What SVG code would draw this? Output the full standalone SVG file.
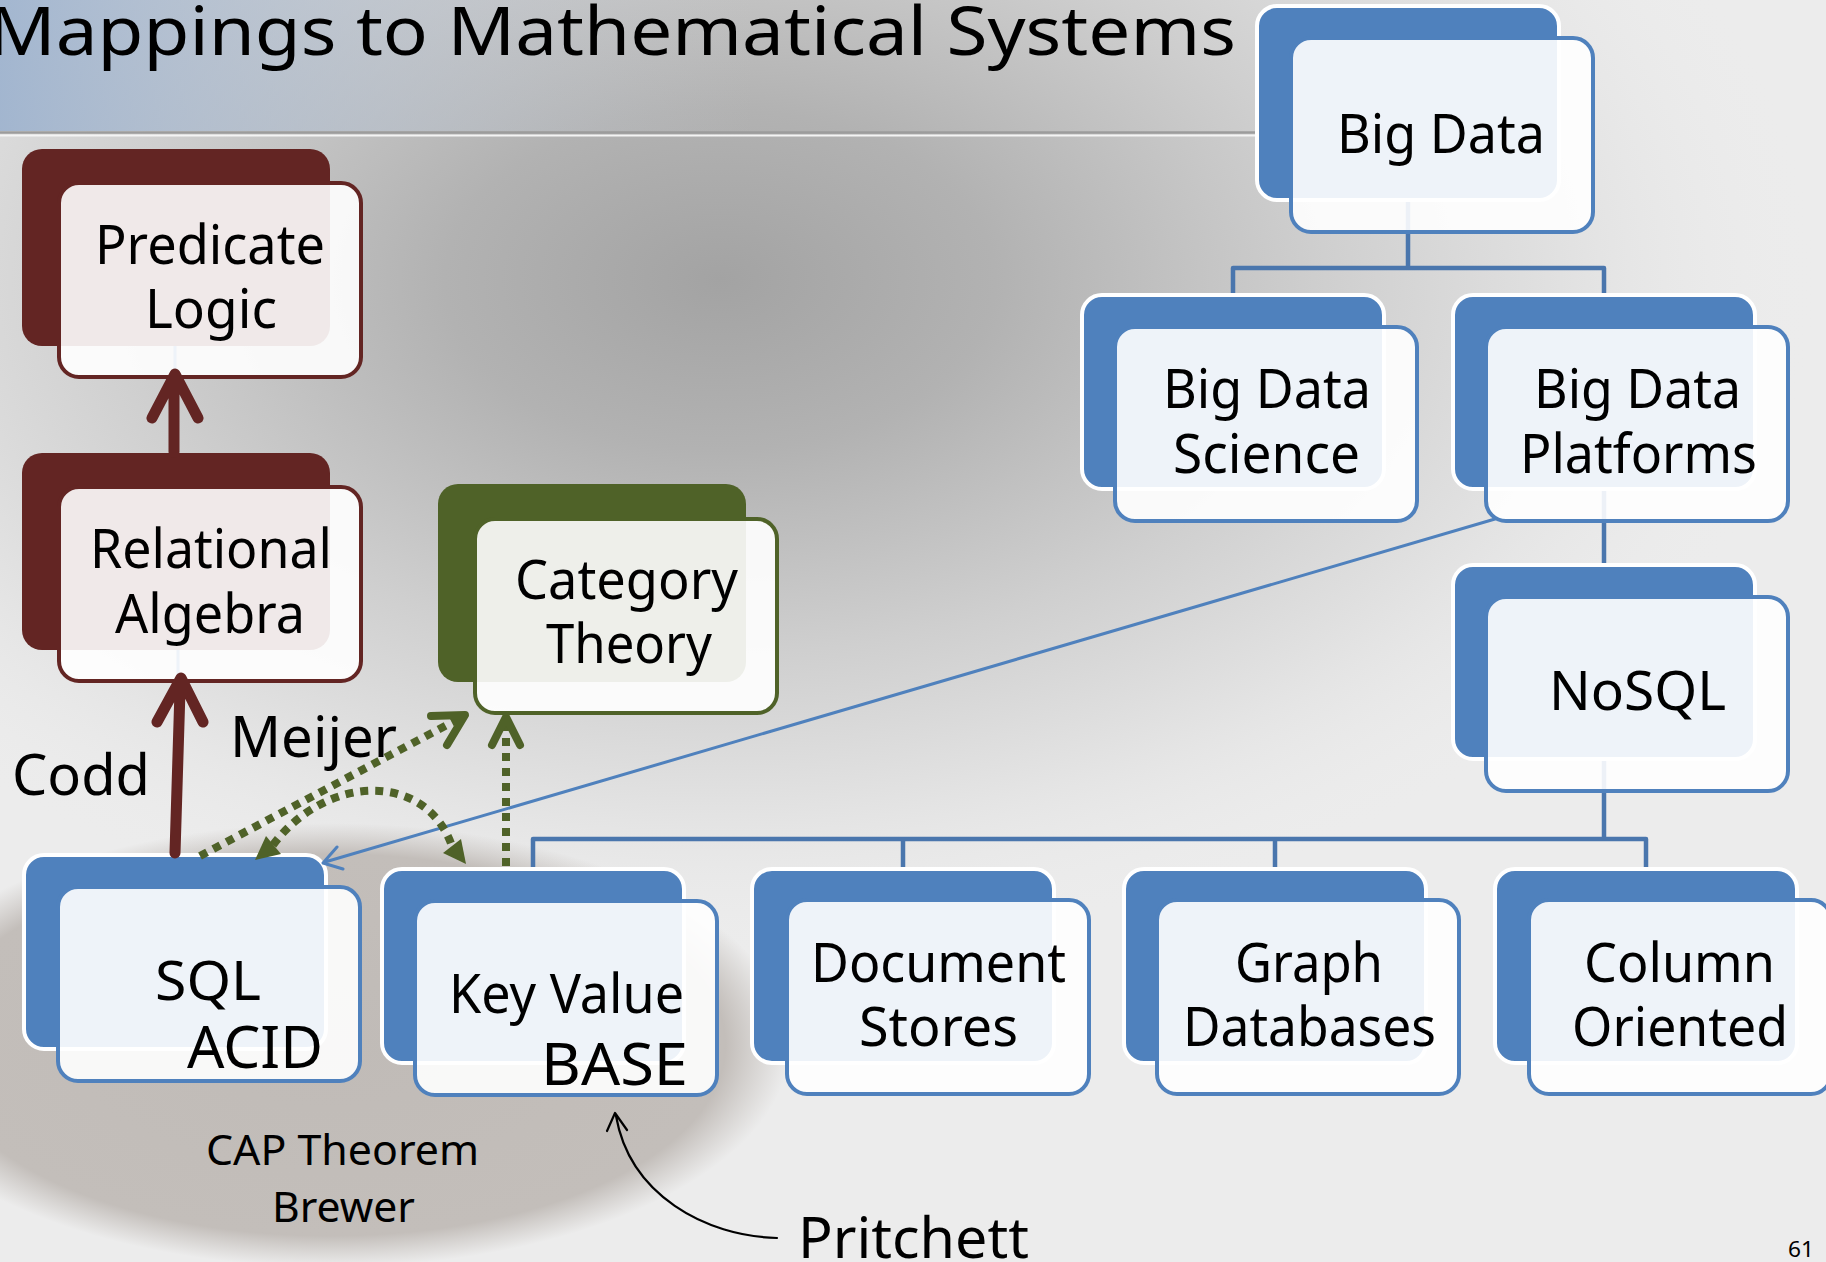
<svg xmlns="http://www.w3.org/2000/svg" width="1826" height="1262" viewBox="0 0 1826 1262">
<defs>
  <radialGradient id="blob" cx="0.5" cy="0.5" r="0.5">
    <stop offset="0" stop-color="#a3a3a3"/>
    <stop offset="0.25" stop-color="#b2b2b2"/>
    <stop offset="0.55" stop-color="#cfcfcf"/>
    <stop offset="0.8" stop-color="#e4e4e4"/>
    <stop offset="1" stop-color="#ececec" stop-opacity="0"/>
  </radialGradient>
  <linearGradient id="topband" x1="0" y1="0" x2="1" y2="0">
    <stop offset="0" stop-color="#98afcd" stop-opacity="0.85"/>
    <stop offset="0.3" stop-color="#b4c0d0" stop-opacity="0.5"/>
    <stop offset="0.6" stop-color="#c8ccd2" stop-opacity="0"/>
  </linearGradient>
  <radialGradient id="shadow" cx="0.5" cy="0.5" r="0.5">
    <stop offset="0" stop-color="#c0bbb7"/>
    <stop offset="0.86" stop-color="#c3beba"/>
    <stop offset="1" stop-color="#c6c1bd" stop-opacity="0"/>
  </radialGradient>
  <style>
    .t { font-family: "Noto Sans", "Open Sans", "Liberation Sans", sans-serif; font-size: 54px; fill: #000; }
    .big { font-size: 58px; }
    .lbl { font-size: 57px; }
    .sm { font-size: 42px; }
    .bb { fill: #4f81bd; stroke: #ffffff; stroke-width: 4; }
    .bf { fill: #ffffff; fill-opacity: 0.9; stroke: #4f81bd; stroke-width: 4; }
    .mb { fill: #632523; }
    .mf { fill: #ffffff; fill-opacity: 0.9; stroke: #632523; stroke-width: 4; }
    .gb { fill: #4f6228; }
    .gf { fill: #ffffff; fill-opacity: 0.9; stroke: #4f6228; stroke-width: 4; }
    .tree { fill: none; stroke: #4a76ad; stroke-width: 4.5; stroke-linejoin: round; }
    .faint { fill: none; stroke: #4f81bd; stroke-width: 3; }
    .mar { fill: none; stroke: #632523; stroke-width: 11; stroke-linecap: round; stroke-linejoin: round; }
    .dot { fill: none; stroke: #4f6228; stroke-width: 8; stroke-dasharray: 8 7; }
    .gch { fill: none; stroke: #4f6228; stroke-width: 8; stroke-linecap: round; stroke-linejoin: round; }
    .gtri { fill: #4f6228; }
    .bl { fill: none; stroke: #4f81bd; stroke-width: 3; stroke-linecap: round; stroke-linejoin: round; }
    .blk { fill: none; stroke: #000; stroke-width: 2.2; stroke-linecap: round; stroke-linejoin: round; }
  </style>
</defs>

<!-- background -->
<rect x="0" y="0" width="1826" height="1262" fill="#ececec"/>
<ellipse cx="720" cy="280" rx="1100" ry="680" fill="url(#blob)"/>
<rect x="0" y="0" width="1260" height="131" fill="url(#topband)"/>
<line x1="0" y1="132.5" x2="1256" y2="132.5" stroke="#9c9c9c" stroke-width="2.5"/>
<line x1="0" y1="135.5" x2="1256" y2="135.5" stroke="#f4f4f4" stroke-width="2"/>
<ellipse cx="330" cy="1045" rx="460" ry="222" fill="url(#shadow)"/>

<text class="t" x="-12" y="55" textLength="1248" lengthAdjust="spacingAndGlyphs" style="font-size:67px">Mappings to Mathematical Systems</text>

<!-- tree connectors (behind nodes) -->
<g id="connectors">
  <path class="tree" d="M1408 196 V268 M1233 297 V268 H1604 V297"/>
  <path class="tree" d="M1604 486 V567"/>
  <path class="tree" d="M1604 756 V839 M533 871 V839 H1646 V871 M903 839 V871 M1275 839 V871"/>
  <path class="faint" d="M175 344 V452 M178 648 V853"/>
</g>

<!-- nodes -->
<g id="predicate-logic">
  <rect class="mb" x="22" y="149" width="308" height="197" rx="20"/>
  <rect class="mf" x="59" y="183" width="302" height="194" rx="20"/>
  <text class="t" x="95" y="264" textLength="230" lengthAdjust="spacingAndGlyphs">Predicate</text>
  <text class="t" x="145" y="328" textLength="132" lengthAdjust="spacingAndGlyphs">Logic</text>
</g>
<g id="relational-algebra">
  <rect class="mb" x="22" y="453" width="308" height="197" rx="20"/>
  <rect class="mf" x="59" y="487" width="302" height="194" rx="20"/>
  <text class="t" x="90" y="568" textLength="242" lengthAdjust="spacingAndGlyphs">Relational</text>
  <text class="t" x="115" y="633" textLength="190" lengthAdjust="spacingAndGlyphs">Algebra</text>
</g>
<g id="category-theory">
  <rect class="gb" x="438" y="484" width="308" height="198" rx="20"/>
  <rect class="gf" x="475" y="519" width="302" height="194" rx="20"/>
  <text class="t" x="515" y="599" textLength="223" lengthAdjust="spacingAndGlyphs">Category</text>
  <text class="t" x="546" y="663" textLength="166" lengthAdjust="spacingAndGlyphs">Theory</text>
</g>
<g id="big-data">
  <rect class="bb" x="1257" y="6" width="302" height="194" rx="20"/>
  <rect class="bf" x="1291" y="38" width="302" height="194" rx="20"/>
  <text class="t" x="1337" y="153" textLength="208" lengthAdjust="spacingAndGlyphs">Big Data</text>
</g>
<g id="big-data-science">
  <rect class="bb" x="1082" y="295" width="302" height="194" rx="20"/>
  <rect class="bf" x="1115" y="327" width="302" height="194" rx="20"/>
  <text class="t" x="1163" y="408" textLength="208" lengthAdjust="spacingAndGlyphs">Big Data</text>
  <text class="t" x="1173" y="473" textLength="187" lengthAdjust="spacingAndGlyphs">Science</text>
</g>
<g id="big-data-platforms">
  <rect class="bb" x="1453" y="295" width="302" height="194" rx="20"/>
  <rect class="bf" x="1486" y="327" width="302" height="194" rx="20"/>
  <text class="t" x="1534" y="408" textLength="207" lengthAdjust="spacingAndGlyphs">Big Data</text>
  <text class="t" x="1520" y="473" textLength="237" lengthAdjust="spacingAndGlyphs">Platforms</text>
</g>
<g id="nosql">
  <rect class="bb" x="1453" y="565" width="302" height="194" rx="20"/>
  <rect class="bf" x="1486" y="597" width="302" height="194" rx="20"/>
  <text class="t" x="1549" y="710" textLength="177" lengthAdjust="spacingAndGlyphs">NoSQL</text>
</g>
<g id="sql-acid">
  <rect class="bb" x="24" y="855" width="302" height="194" rx="20"/>
  <rect class="bf" x="58" y="887" width="302" height="194" rx="20"/>
  <text class="t" x="155" y="1000" textLength="106" lengthAdjust="spacingAndGlyphs">SQL</text>
  <text class="t big" x="187" y="1068" textLength="136" lengthAdjust="spacingAndGlyphs">ACID</text>
</g>
<g id="key-value-base">
  <rect class="bb" x="382" y="869" width="302" height="194" rx="20"/>
  <rect class="bf" x="415" y="901" width="302" height="194" rx="20"/>
  <text class="t" x="449" y="1013" textLength="235" lengthAdjust="spacingAndGlyphs">Key Value</text>
  <text class="t big" x="541" y="1085" textLength="147" lengthAdjust="spacingAndGlyphs">BASE</text>
</g>
<g id="document-stores">
  <rect class="bb" x="752" y="869" width="302" height="194" rx="20"/>
  <rect class="bf" x="787" y="900" width="302" height="194" rx="20"/>
  <text class="t" x="811" y="982" textLength="255" lengthAdjust="spacingAndGlyphs">Document</text>
  <text class="t" x="859" y="1046" textLength="159" lengthAdjust="spacingAndGlyphs">Stores</text>
</g>
<g id="graph-databases">
  <rect class="bb" x="1124" y="869" width="302" height="194" rx="20"/>
  <rect class="bf" x="1157" y="900" width="302" height="194" rx="20"/>
  <text class="t" x="1235" y="982" textLength="148" lengthAdjust="spacingAndGlyphs">Graph</text>
  <text class="t" x="1183" y="1046" textLength="253" lengthAdjust="spacingAndGlyphs">Databases</text>
</g>
<g id="column-oriented">
  <rect class="bb" x="1495" y="869" width="302" height="194" rx="20"/>
  <rect class="bf" x="1529" y="900" width="302" height="194" rx="20"/>
  <text class="t" x="1584" y="982" textLength="191" lengthAdjust="spacingAndGlyphs">Column</text>
  <text class="t" x="1572" y="1046" textLength="216" lengthAdjust="spacingAndGlyphs">Oriented</text>
</g>

<!-- arrows -->
<g id="arrows">
  <path class="mar" d="M174 452 V380 M152 418 L175 374 L198 418"/>
  <path class="mar" d="M175 853 L180 690 M157 722 L181 678 L203 722"/>
  <path class="bl" d="M1495 519 L325 862 M337 847 L323 863 L343 869"/>
  <path class="dot" d="M506 866 V722"/>
  <path class="gch" d="M492 745 L506 717 L520 745"/>
  <path class="dot" d="M200 856 L460 718"/>
  <path class="gch" d="M431 716 L465 715 L447 745"/>
  <path class="dot" d="M273 845 C325 775 425 770 452 846"/>
  <polygon class="gtri" points="255,860 266,836 281,854"/>
  <polygon class="gtri" points="466,864 443,853 461,839"/>
  <path class="blk" d="M777 1238 C705 1236 630 1195 616 1116 M607 1131 L615 1113 L627 1130"/>
</g>

<!-- free labels -->
<g id="labels">
  <text class="t lbl" x="12" y="795" textLength="138" lengthAdjust="spacingAndGlyphs">Codd</text>
  <text class="t lbl" x="230" y="757" textLength="167" lengthAdjust="spacingAndGlyphs">Meijer</text>
  <text class="t sm" x="206" y="1165" textLength="273" lengthAdjust="spacingAndGlyphs">CAP Theorem</text>
  <text class="t sm" x="272" y="1222" textLength="143" lengthAdjust="spacingAndGlyphs">Brewer</text>
  <text class="t lbl" x="798" y="1258" textLength="231" lengthAdjust="spacingAndGlyphs">Pritchett</text>
  <text class="t" x="1788" y="1257" textLength="26" lengthAdjust="spacingAndGlyphs" style="font-size:22px">61</text>
</g>
</svg>
